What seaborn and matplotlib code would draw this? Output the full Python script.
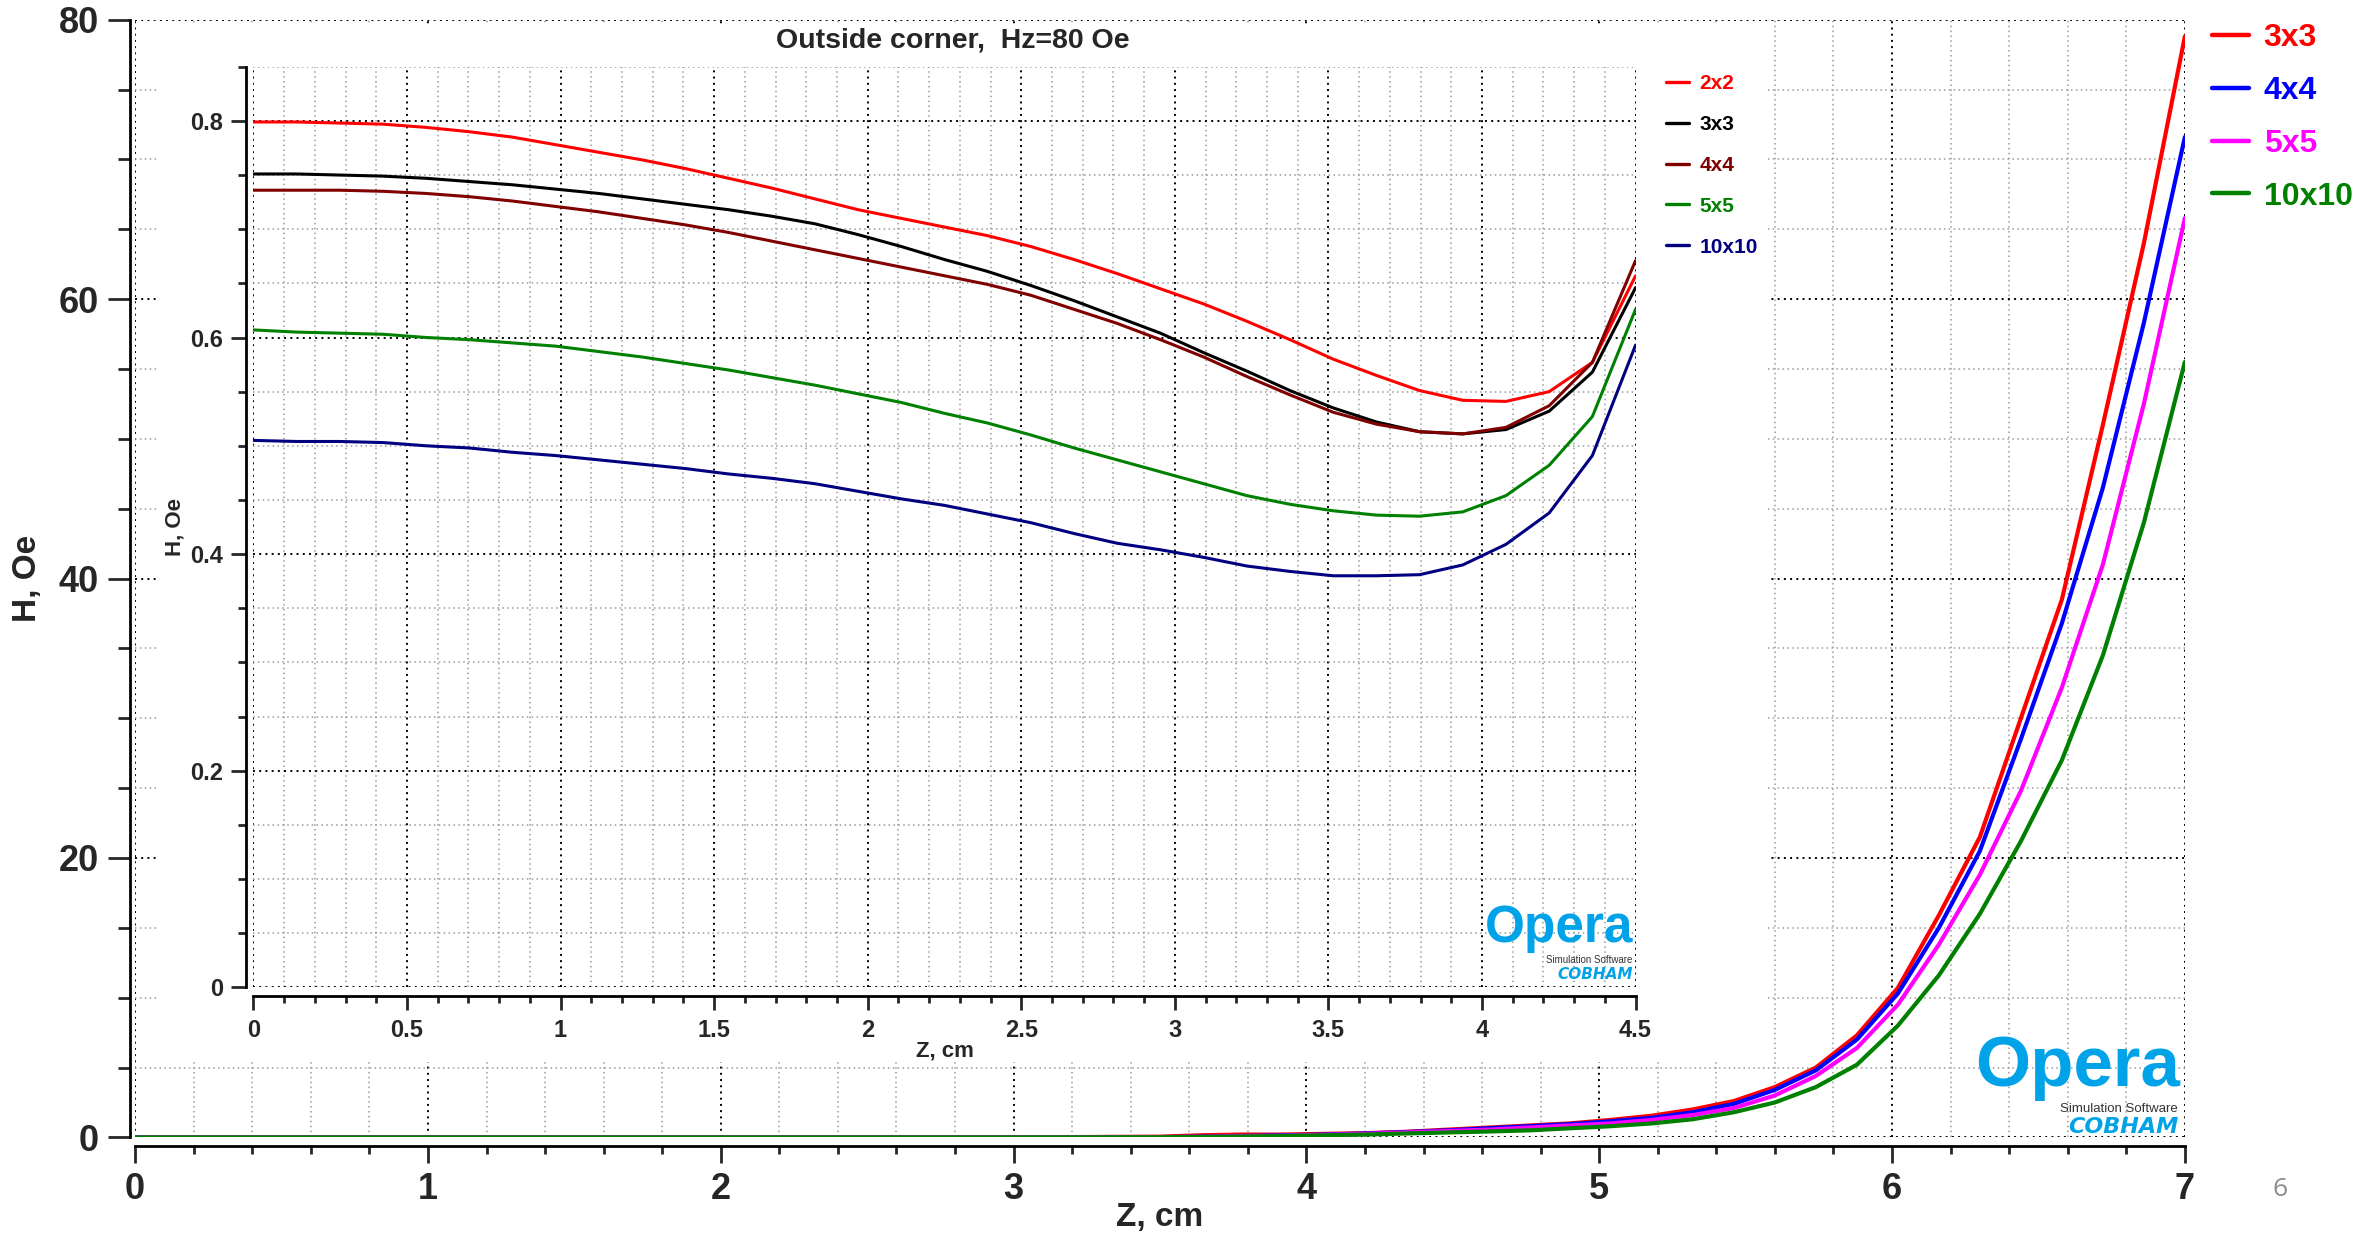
import numpy as np
import pandas as pd
import matplotlib
matplotlib.use("Agg")
import matplotlib.pyplot as plt
import seaborn as sns
from matplotlib.ticker import MultipleLocator, FuncFormatter
from matplotlib.patches import Rectangle
from matplotlib.lines import Line2D

# ---------------- data: main plot (H vs Z, Oe) ----------------
z_main = [0.0, 0.5, 1.0, 1.5, 2.0, 2.5, 3.0, 3.5, 3.64, 3.78, 3.92, 4.06, 4.2, 4.34,
          4.48, 4.62, 4.76, 4.9, 5.04, 5.18, 5.32, 5.46, 5.6, 5.74, 5.88, 6.02,
          6.16, 6.3, 6.44, 6.58, 6.72, 6.86, 7.0]
h_3x3 = [0, 0, 0, 0, 0, 0, 0, 0.05, 0.15, 0.2, 0.2, 0.25, 0.3, 0.4, 0.55, 0.7, 0.85,
         1.0, 1.25, 1.55, 2.0, 2.6, 3.6, 5.0, 7.3, 10.7, 15.9, 21.5, 30.0, 38.5,
         51.0, 64.0, 78.8]
h_4x4 = [0, 0, 0, 0, 0, 0, 0, 0.02, 0.05, 0.1, 0.15, 0.2, 0.28, 0.38, 0.5, 0.65, 0.8,
         0.95, 1.15, 1.4, 1.8, 2.4, 3.4, 4.8, 7.0, 10.3, 15.0, 20.5, 28.5, 36.8,
         46.5, 58.3, 71.6]
h_5x5 = [0, 0, 0, 0, 0, 0, 0, 0.02, 0.04, 0.08, 0.12, 0.18, 0.25, 0.35, 0.45, 0.55,
         0.7, 0.85, 1.0, 1.25, 1.6, 2.1, 3.0, 4.4, 6.4, 9.5, 13.8, 18.8, 24.8, 32.2,
         41.0, 52.5, 65.8]
h_10x10 = [0, 0, 0, 0, 0, 0, 0, 0.01, 0.03, 0.06, 0.1, 0.15, 0.2, 0.28, 0.35, 0.42,
           0.5, 0.65, 0.8, 1.0, 1.3, 1.8, 2.5, 3.6, 5.2, 8.0, 11.6, 16.0, 21.2, 27.0,
           34.5, 44.0, 55.5]
main_labels = ["3x3", "4x4", "5x5", "10x10"]
main_colors = ["#ff0000", "#0000ff", "#ff00ff", "#008000"]

# ---------------- data: inset (Outside corner, Hz=80 Oe) ----------------
z_in = [0.0, 0.1406, 0.2813, 0.4219, 0.5625, 0.7031, 0.8438, 0.9844, 1.125, 1.2656,
        1.4063, 1.5469, 1.6875, 1.8281, 1.9688, 2.1094, 2.25, 2.3906, 2.5313, 2.6719,
        2.8125, 2.9531, 3.0938, 3.2344, 3.375, 3.5156, 3.6563, 3.7969, 3.9375, 4.0781,
        4.2188, 4.3594, 4.5]
i_2x2 = [0.799, 0.799, 0.798, 0.797, 0.794, 0.790, 0.785, 0.778, 0.771, 0.764, 0.756,
         0.747, 0.738, 0.728, 0.718, 0.710, 0.702, 0.694, 0.684, 0.672, 0.659, 0.645,
         0.631, 0.615, 0.598, 0.580, 0.565, 0.551, 0.542, 0.541, 0.550, 0.577, 0.657]
i_3x3 = [0.751, 0.751, 0.750, 0.749, 0.747, 0.744, 0.741, 0.737, 0.733, 0.728, 0.723,
         0.718, 0.712, 0.705, 0.695, 0.684, 0.672, 0.661, 0.648, 0.634, 0.619, 0.604,
         0.586, 0.569, 0.551, 0.535, 0.522, 0.513, 0.511, 0.515, 0.532, 0.568, 0.646]
i_4x4 = [0.736, 0.736, 0.736, 0.735, 0.733, 0.730, 0.726, 0.721, 0.716, 0.710, 0.704,
         0.697, 0.689, 0.681, 0.673, 0.665, 0.657, 0.649, 0.639, 0.626, 0.613, 0.598,
         0.582, 0.564, 0.547, 0.531, 0.520, 0.513, 0.511, 0.517, 0.537, 0.577, 0.671]
i_5x5 = [0.607, 0.605, 0.604, 0.603, 0.600, 0.598, 0.595, 0.592, 0.587, 0.582, 0.576,
         0.570, 0.563, 0.556, 0.548, 0.540, 0.530, 0.521, 0.510, 0.498, 0.487, 0.476,
         0.465, 0.454, 0.446, 0.440, 0.436, 0.435, 0.439, 0.454, 0.482, 0.527, 0.626]
i_10x10 = [0.505, 0.504, 0.504, 0.503, 0.500, 0.498, 0.494, 0.491, 0.487, 0.483, 0.479,
           0.474, 0.470, 0.465, 0.458, 0.451, 0.445, 0.437, 0.429, 0.419, 0.410, 0.404,
           0.397, 0.389, 0.384, 0.380, 0.380, 0.381, 0.390, 0.409, 0.438, 0.491, 0.593]
inset_labels = ["2x2", "3x3", "4x4", "5x5", "10x10"]
inset_colors = ["#ff0000", "#000000", "#800000", "#008000", "#000080"]

# ---------------- style ----------------
sns.set_style("white")
plt.rcParams["font.family"] = ["Liberation Sans", "DejaVu Sans"]
plt.rcParams["font.weight"] = "bold"
plt.rcParams["axes.labelweight"] = "bold"

fig = plt.figure(figsize=(23.79, 12.36), dpi=100)
ax = fig.add_axes([0.0568, 0.0798, 0.8616, 0.9043])

df_main = pd.DataFrame({
    "Z": z_main * 4,
    "H": h_3x3 + h_4x4 + h_5x5 + h_10x10,
    "mesh": sum([[lab] * len(z_main) for lab in main_labels], []),
})
sns.lineplot(data=df_main, x="Z", y="H", hue="mesh", hue_order=main_labels,
             palette=dict(zip(main_labels, main_colors)), linewidth=3.0,
             estimator=None, sort=False, legend=False, ax=ax)

MAJ = dict(color="black", linestyle=(0, (1, 2.2)), linewidth=1.4)
MIN = dict(color="#9a9a9a", linestyle=(0, (1, 2.2)), linewidth=1.1)


def style_axes(a, xmaj, xmin, ymaj, ymin, lsize, ylen, xlen, off_l, off_b):
    a.xaxis.set_major_locator(MultipleLocator(xmaj))
    a.xaxis.set_minor_locator(MultipleLocator(xmin))
    a.yaxis.set_major_locator(MultipleLocator(ymaj))
    a.yaxis.set_minor_locator(MultipleLocator(ymin))
    fmt = FuncFormatter(lambda v, p: f"{v:g}")
    a.xaxis.set_major_formatter(fmt)
    a.yaxis.set_major_formatter(fmt)
    a.grid(which="minor", **MIN)
    a.grid(which="major", **MAJ)
    for s in ("top", "right"):
        a.spines[s].set_visible(False)
    for s in ("left", "bottom"):
        a.spines[s].set_linewidth(2)
        a.spines[s].set_color("black")
    a.spines["left"].set_position(("outward", off_l))
    a.spines["bottom"].set_position(("outward", off_b))
    a.tick_params(axis="y", which="major", length=ylen[0], width=2, direction="out",
                  labelsize=lsize, pad=6, left=True)
    a.tick_params(axis="y", which="minor", length=ylen[1], width=2, direction="out", left=True)
    a.tick_params(axis="x", which="major", length=xlen[0], width=2, direction="out",
                  labelsize=lsize, pad=7, bottom=True)
    a.tick_params(axis="x", which="minor", length=xlen[1], width=2, direction="out", bottom=True)


ax.set_xlim(0, 7)
ax.set_ylim(0, 80)
style_axes(ax, 1, 0.2, 20, 5, 26, (16, 9), (12, 6), 4, 6)
ax.set_xlabel("Z, cm", fontsize=24, fontweight="bold")
ax.set_ylabel("H, Oe", fontsize=24, fontweight="bold")
ax.xaxis.label.set_va("center")
ax.yaxis.label.set_va("center")
ax.xaxis.set_label_coords(0.5, -0.072)
ax.yaxis.set_label_coords(-0.0526, 0.5)

# white panel behind the inset
fig.add_artist(Rectangle((0.067, 0.141), 0.676, 0.839, transform=fig.transFigure,
                         facecolor="white", edgecolor="none", zorder=1))

ax2 = fig.add_axes([0.1065, 0.2012, 0.581, 0.7448])
ax2.set_zorder(2)
df_in = pd.DataFrame({
    "Z": z_in * 5,
    "H": i_2x2 + i_3x3 + i_4x4 + i_5x5 + i_10x10,
    "mesh": sum([[lab] * len(z_in) for lab in inset_labels], []),
})
sns.lineplot(data=df_in, x="Z", y="H", hue="mesh", hue_order=inset_labels,
             palette=dict(zip(inset_labels, inset_colors)), linewidth=2.2,
             estimator=None, sort=False, legend=False, ax=ax2)
ax2.set_xlim(0, 4.5)
ax2.set_ylim(0, 0.85)
style_axes(ax2, 0.5, 0.1, 0.2, 0.05, 17, (11, 6), (10, 5), 5, 6)
ax2.set_xlabel("Z, cm", fontsize=16, fontweight="bold")
ax2.set_ylabel("H, Oe", fontsize=16, fontweight="bold")
ax2.xaxis.label.set_va("center")
ax2.yaxis.label.set_va("center")
ax2.xaxis.set_label_coords(0.5, -0.069)
ax2.yaxis.set_label_coords(-0.057, 0.5)
ax2.text(0.506, 1.028, "Outside corner,  Hz=80 Oe", transform=ax2.transAxes,
         ha="center", va="center", fontsize=20.5, fontweight="bold")

# legends
h_main = [Line2D([], [], color=c, lw=3.2) for c in main_colors]
fig.legend(h_main, main_labels, loc="upper left", bbox_to_anchor=(0.930, 0.981),
           frameon=False, prop={"size": 23, "weight": "bold"}, labelcolor="linecolor",
           handlelength=1.15, handletextpad=0.45, labelspacing=0.71,
           borderpad=0, borderaxespad=0)
h_in = [Line2D([], [], color=c, lw=2.4) for c in inset_colors]
fig.legend(h_in, inset_labels, loc="upper left", bbox_to_anchor=(0.7003, 0.940),
           frameon=False, prop={"size": 15, "weight": "bold"}, labelcolor="linecolor",
           handlelength=1.1, handletextpad=0.5, labelspacing=1.05,
           borderpad=0, borderaxespad=0)

# Opera / Cobham logos
blue = "#00a3e8"
fig.text(0.9165, 0.1215, "Opera", ha="right", va="baseline", fontsize=51,
         color=blue, fontweight="bold", zorder=6)
fig.text(0.9155, 0.1028, "Simulation Software", ha="right", va="center", fontsize=9.5,
         color="#333333", fontweight="normal", zorder=6)
fig.text(0.9155, 0.0880, "COBHAM", ha="right", va="center", fontsize=16, color=blue,
         fontweight="bold", style="italic", family="DejaVu Sans", zorder=6)

fig.text(0.6866, 0.2375, "Opera", ha="right", va="baseline", fontsize=37,
         color=blue, fontweight="bold", zorder=6)
fig.text(0.6862, 0.2232, "Simulation Software", ha="right", va="center", fontsize=7,
         color="#333333", fontweight="normal", zorder=6)
fig.text(0.6862, 0.2112, "COBHAM", ha="right", va="center", fontsize=11, color=blue,
         fontweight="bold", style="italic", family="DejaVu Sans", zorder=6)

# page number
fig.text(0.9585, 0.038, "6", ha="center", va="center", fontsize=19, color="#8c8c8c",
         fontweight="normal", family=["Open Sans", "DejaVu Sans"])

fig.savefig("out.png", dpi=100, facecolor="white")
